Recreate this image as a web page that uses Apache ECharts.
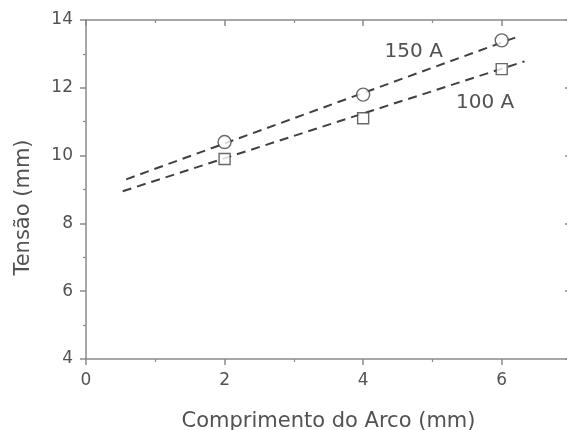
<!DOCTYPE html>
<html>
<head>
    <meta charset="utf-8">
    <title>Tensão x Comprimento do Arco</title>
    <script src="https://cdn.jsdelivr.net/npm/echarts@6/dist/echarts.min.js"></script>
    <style>
        *{ padding: 0; margin: 0; }
        html, body{ width: 100%; height: 100%; background: #fff; }
        #chart{ width: 567px; height: 430px; }
    </style>
</head>
<body>
<div id="chart"></div>
<script>
    // valores
    var comprimento = [2, 4, 6];
    var tensao150 = [10.4, 11.8, 13.4];
    var tensao100 = [9.9, 11.1, 12.55];
    // retas de ajuste (início e fim)
    var ajuste150 = [[0.58, 9.3], [6.22, 13.5]];
    var ajuste100 = [[0.53, 8.95], [6.33, 12.78]];
    var rotulos = ['150 A', '100 A'];
    var posRotulos = [[4.73, 13.06], [5.76, 11.55]];

    var cinza = '#525252';
    var eixo = '#8a8a8a';
    var fonte = 'DejaVu Sans';

    function pares(xs, ys){
        var out = [];
        for(var i = 0; i < xs.length; i++) out.push([xs[i], ys[i]]);
        return out;
    }

    var myChart = echarts.init(document.getElementById('chart'));

    function eixoX(pos, comRotulo){
        return {
            type: 'value', position: pos, min: 0, max: 7, interval: 2,
            name: comRotulo ? 'Comprimento do Arco (mm)' : '',
            nameLocation: 'middle', nameGap: 52,
            nameTextStyle: { color: cinza, fontSize: 21, fontFamily: fonte },
            axisLine: { show: true, onZero: false, lineStyle: { color: eixo, width: 1.5 } },
            axisTick: { show: true, inside: !comRotulo, length: 6, lineStyle: { color: eixo, width: 1.5 } },
            minorTick: { show: true, splitNumber: 2, length: 3, lineStyle: { color: eixo, width: 1.2 } },
            axisLabel: { show: comRotulo, showMaxLabel: false, color: cinza, fontSize: 17, fontFamily: fonte, margin: 13 },
            splitLine: { show: false }
        };
    }
    function eixoY(pos, comRotulo){
        return {
            type: 'value', position: pos, min: 4, max: 14, interval: 2,
            name: comRotulo ? 'Tensão (mm)' : '',
            nameLocation: 'middle', nameGap: 52,
            nameTextStyle: { color: cinza, fontSize: 21, fontFamily: fonte, padding: [0, 36, 0, 0] },
            axisLine: { show: true, onZero: false, lineStyle: { color: eixo, width: 1.5 } },
            axisTick: { show: true, inside: !comRotulo, length: 6, lineStyle: { color: eixo, width: 1.5 } },
            minorTick: { show: true, splitNumber: 2, length: 3, lineStyle: { color: eixo, width: 1.2 } },
            axisLabel: { show: comRotulo, color: cinza, fontSize: 17, fontFamily: fonte, margin: 13 },
            splitLine: { show: false }
        };
    }

    var tracejado = { color: '#404040', width: 2, type: [9, 6] };
    var rotuloEstilo = { show: true, position: 'inside', color: cinza, fontSize: 20, fontFamily: fonte, formatter: '{b}' };

    myChart.setOption({
        animation: false,
        grid: { left: 86, top: 20, right: -4, bottom: 71, containLabel: false, outerBoundsMode: 'none' },
        xAxis: [eixoX('bottom', true), eixoX('top', false)],
        yAxis: [eixoY('left', true), eixoY('right', false)],
        series: [
            {
                type: 'line', data: ajuste150, symbol: 'none', lineStyle: tracejado, z: 2,
                markPoint: {
                    symbol: 'circle', symbolSize: 1, itemStyle: { color: 'transparent' },
                    label: rotuloEstilo,
                    data: [{ name: rotulos[0], coord: posRotulos[0] }]
                }
            },
            {
                type: 'line', data: ajuste100, symbol: 'none', lineStyle: tracejado, z: 2,
                markPoint: {
                    symbol: 'circle', symbolSize: 1, itemStyle: { color: 'transparent' },
                    label: rotuloEstilo,
                    data: [{ name: rotulos[1], coord: posRotulos[1] }]
                }
            },
            {
                name: '150 A', type: 'scatter', data: pares(comprimento, tensao150),
                symbol: 'circle', symbolSize: 13, z: 3,
                itemStyle: { color: '#fff', borderColor: '#444', borderWidth: 1.4 }
            },
            {
                name: '100 A', type: 'scatter', data: pares(comprimento, tensao100),
                symbol: 'rect', symbolSize: 11, z: 3,
                itemStyle: { color: '#fff', borderColor: '#444', borderWidth: 1.4 }
            }
        ]
    });
</script>
</body>
</html>
